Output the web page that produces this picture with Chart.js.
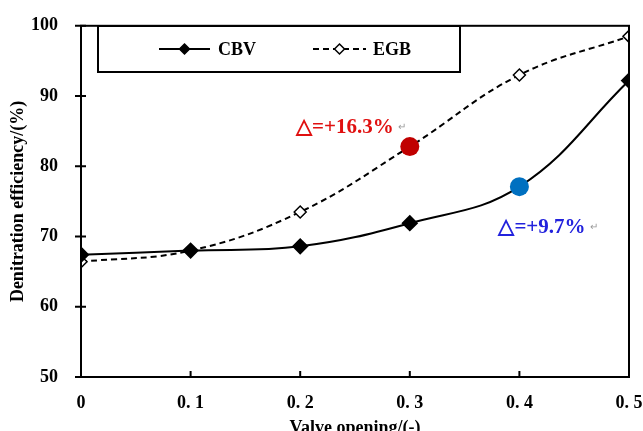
<!DOCTYPE html>
<html>
<head>
<meta charset="utf-8">
<script src="https://cdn.jsdelivr.net/npm/chart.js@4.4.0/dist/chart.umd.min.js"></script>
<style>
  html, body { margin: 0; padding: 0; background: #fff; overflow: hidden; }
  #wrap { width: 643px; height: 431px; overflow: hidden; }
</style>
</head>
<body>
<div id="wrap"><canvas id="myChart" width="643" height="447"></canvas></div>
<script>
// valve opening (x) and denitration efficiency (%)
var valveOpening = [0, 0.1, 0.2, 0.3, 0.4, 0.5];
var cbvValues = [67.4, 68.0, 68.6, 71.9, 77.1, 92.2];
var egbValues = [66.4, 68.0, 73.5, 82.8, 93.0, 98.5];

// highlighted points and their labels
var markX = [0.3, 0.4];
var markY = [82.8, 77.1];
var markText = ['△=+16.3%', '△=+9.7%'];
var markColor = ['#c00000', '#0070c0'];
var markTextColor = ['#e01010', '#2222dd'];

var serif = '"Liberation Serif", "Times New Roman", serif';

function pts(xs, ys) {
  return xs.map(function (x, i) { return { x: x, y: ys[i] }; });
}

// frame + crossing ticks
var framePlugin = {
  id: 'frame',
  afterDraw: function (chart) {
    var c = chart.ctx, a = chart.chartArea;
    var xs = chart.scales.x, ys = chart.scales.y;
    c.save();
    c.strokeStyle = '#000';
    c.lineWidth = 2;
    c.strokeRect(a.left, a.top, a.right - a.left, a.bottom - a.top);
    c.beginPath();
    ys.ticks.forEach(function (t) {
      var p = ys.getPixelForValue(t.value);
      c.moveTo(a.left - 6, p);
      c.lineTo(a.left + 5, p);
    });
    xs.ticks.forEach(function (t) {
      var p = xs.getPixelForValue(t.value);
      c.moveTo(p, a.bottom);
      c.lineTo(p, a.bottom - 6);
    });
    c.stroke();
    c.restore();
  }
};

// boxed legend inside plot + delta labels
var legendPlugin = {
  id: 'boxLegend',
  afterDatasetsDraw: function (chart) {
    var c = chart.ctx;
    var xs = chart.scales.x, ys = chart.scales.y;
    c.save();
    c.fillStyle = '#fff';
    c.fillRect(98, 26, 362, 46);
    c.strokeStyle = '#000';
    c.lineWidth = 2;
    c.strokeRect(98, 26, 362, 46);

    var items = [
      { ds: chart.data.datasets[2], x0: 159, x1: 210, tx: 218 },
      { ds: chart.data.datasets[3], x0: 313, x1: 366, tx: 373 }
    ];
    var ly = 49;
    items.forEach(function (it) {
      c.beginPath();
      c.setLineDash(it.ds.borderDash || []);
      c.lineWidth = 2;
      c.strokeStyle = '#000';
      c.moveTo(it.x0, ly);
      c.lineTo(it.x1, ly);
      c.stroke();
      c.setLineDash([]);
      var mx = (it.x0 + it.x1) / 2, r = 5;
      c.beginPath();
      c.moveTo(mx, ly - r);
      c.lineTo(mx + r, ly);
      c.lineTo(mx, ly + r);
      c.lineTo(mx - r, ly);
      c.closePath();
      c.fillStyle = it.ds.pointBackgroundColor;
      c.fill();
      c.lineWidth = 1.5;
      c.stroke();
      c.fillStyle = '#000';
      c.font = 'bold 18px ' + serif;
      c.textBaseline = 'middle';
      c.textAlign = 'left';
      c.fillText(it.ds.label, it.tx, ly + 1);
    });

    // delta labels
    var offs = [{ dx: -16, dy: -14, align: 'right' }, { dx: -21, dy: 46, align: 'left' }];
    markX.forEach(function (mx, i) {
      var px = xs.getPixelForValue(mx) + offs[i].dx;
      var py = ys.getPixelForValue(markY[i]) + offs[i].dy;
      c.font = 'bold 21px ' + serif;
      c.textBaseline = 'alphabetic';
      c.textAlign = offs[i].align;
      c.fillStyle = markTextColor[i];
      c.fillText(markText[i], px, py);
      var w = c.measureText(markText[i]).width;
      var endX = offs[i].align === 'right' ? px : px + w;
      c.font = '10px ' + serif;
      c.fillStyle = '#999';
      c.textAlign = 'left';
      c.fillText('↵', endX + 4, py - 3);
    });
    c.restore();
  }
};

var ctx = document.getElementById('myChart').getContext('2d');
var myChart = new Chart(ctx, {
  type: 'scatter',
  data: {
    datasets: [{
      label: 'mark1',
      data: [{ x: markX[0], y: markY[0] }],
      pointRadius: 9.5,
      pointHoverRadius: 9.5,
      pointBackgroundColor: markColor[0],
      pointBorderWidth: 0,
      showLine: false,
      order: 0
    }, {
      label: 'mark2',
      data: [{ x: markX[1], y: markY[1] }],
      pointRadius: 9.5,
      pointHoverRadius: 9.5,
      pointBackgroundColor: markColor[1],
      pointBorderWidth: 0,
      showLine: false,
      order: 0
    }, {
      label: 'CBV',
      data: pts(valveOpening, cbvValues),
      showLine: true,
      borderColor: '#000',
      borderWidth: 2,
      tension: 0.4,
      pointStyle: 'rectRot',
      pointRadius: 7,
      pointBackgroundColor: '#000',
      pointBorderColor: '#000',
      order: 1
    }, {
      label: 'EGB',
      data: pts(valveOpening, egbValues),
      showLine: true,
      borderColor: '#000',
      borderWidth: 2,
      borderDash: [6, 4],
      tension: 0.4,
      pointStyle: 'rectRot',
      pointRadius: 6,
      pointBackgroundColor: '#fff',
      pointBorderColor: '#000',
      pointBorderWidth: 1.5,
      order: 2
    }]
  },
  options: {
    responsive: false,
    animation: false,
    layout: { padding: { top: 19, right: 14, left: 0, bottom: 0 } },
    plugins: {
      legend: { display: false },
      tooltip: { enabled: false }
    },
    scales: {
      x: {
        type: 'linear',
        min: 0,
        max: 0.5,
        grid: { display: false },
        border: { display: false },
        ticks: {
          stepSize: 0.1,
          padding: 8,
          color: '#000',
          font: { family: serif, size: 18, weight: 'bold' },
          callback: function (v) { return v === 0 ? '0' : v.toFixed(1).replace('.', '. '); }
        },
        title: {
          display: true,
          text: 'Valve opening/(-)',
          color: '#000',
          font: { family: serif, size: 18, weight: 'bold' },
          padding: { top: 2, bottom: 8 }
        },
        afterFit: function (s) {
          s.height = 70;
          s.paddingLeft = 0;
          s.paddingRight = 0;
        }
      },
      y: {
        min: 50,
        max: 100,
        grid: { display: false },
        border: { display: false },
        ticks: {
          stepSize: 10,
          padding: 15,
          color: '#000',
          font: { family: serif, size: 18, weight: 'bold' }
        },
        title: {
          display: true,
          text: 'Denitration efficiency/(%)',
          color: '#000',
          font: { family: serif, size: 18, weight: 'bold' },
          padding: { top: 8, bottom: 2 }
        },
        afterFit: function (s) { s.width = 81; }
      }
    }
  },
  plugins: [legendPlugin, framePlugin]
});
</script>
</body>
</html>
